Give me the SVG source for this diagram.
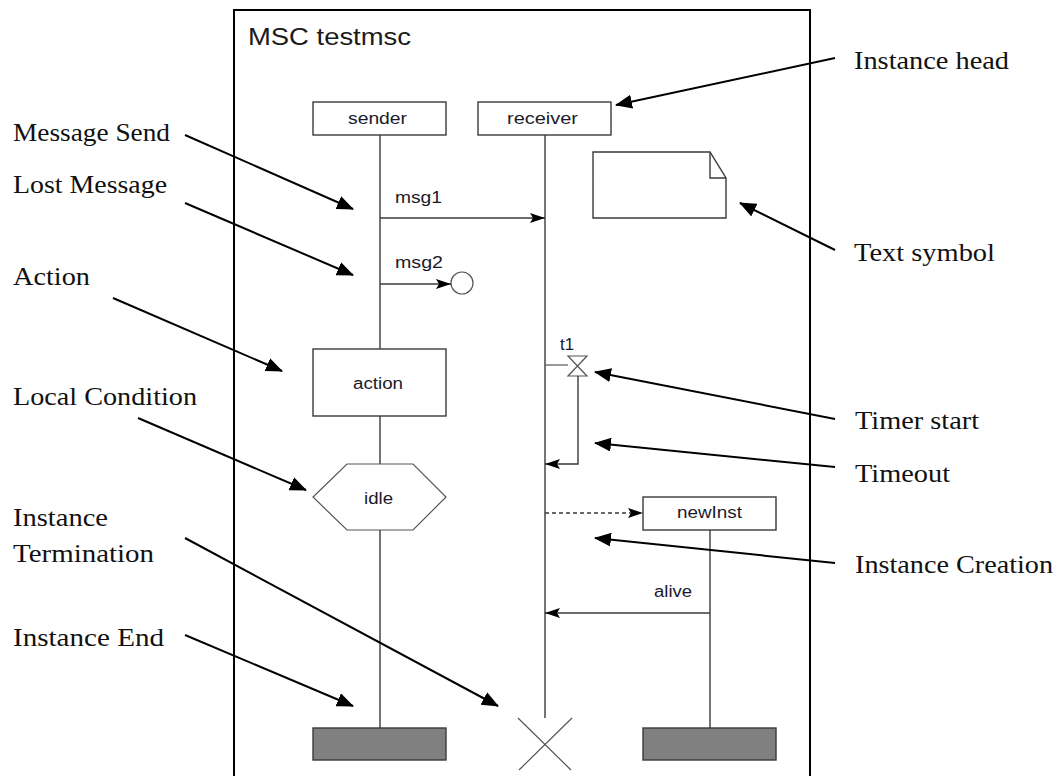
<svg xmlns="http://www.w3.org/2000/svg" width="1059" height="776" viewBox="0 0 1059 776">
<defs>
<marker id="ann" markerUnits="userSpaceOnUse" markerWidth="17" markerHeight="14" viewBox="0 0 17 14" refX="16" refY="7" orient="auto">
<path d="M0,0 L17,7 L0,14 Z" fill="#000"/>
</marker>
<marker id="msg" markerUnits="userSpaceOnUse" markerWidth="15" markerHeight="10" viewBox="0 0 15 10" refX="15" refY="5" orient="auto">
<path d="M0,0 L15,5 L0,10 L3,5 Z" fill="#000"/>
</marker>
<style>
.frame{fill:#fff;stroke:#000;stroke-width:2}
.box{fill:#fff;stroke:#3a3a3a;stroke-width:1.4}
.endbox{fill:#808080;stroke:#3a3a3a;stroke-width:1.4}
.life{stroke:#3a3a3a;stroke-width:1.4;fill:none}
.thin{stroke:#555;stroke-width:1.2;fill:none}
.m{stroke:#3a3a3a;stroke-width:1.4;fill:none;marker-end:url(#msg)}
.ann{stroke:#000;stroke-width:2;fill:none;marker-end:url(#ann)}
.t{font-family:"Liberation Sans",Arial,sans-serif;font-size:16px;fill:#1a1a2a}
.lbl{font-family:"Liberation Serif","Times New Roman",serif;font-size:25px;fill:#111}
</style>
</defs>
<rect x="0" y="0" width="1059" height="776" fill="#fff"/>
<g id="frame">
<path class="frame" d="M234,790 V10 H810 V790"/>
<text x="248" y="45" style="font-family:'Liberation Sans',Arial,sans-serif;font-size:24px;fill:#1a1a1a" textLength="163" lengthAdjust="spacingAndGlyphs">MSC testmsc</text>
</g>
<g id="sender">
<rect class="box" x="313" y="102" width="133" height="33"/>
<text class="t" x="348" y="124" textLength="59" lengthAdjust="spacingAndGlyphs">sender</text>
<path class="life" d="M380,135 V349 M380,416 V464 M380,530 V728"/>
<rect class="endbox" x="313" y="728" width="133" height="32"/>
</g>
<g id="receiver">
<rect class="box" x="478" y="102" width="133" height="33"/>
<text class="t" x="507" y="124" textLength="71" lengthAdjust="spacingAndGlyphs">receiver</text>
<path class="life" d="M545,135 V718"/>
<path class="thin" d="M518,718 L571,770 M572,718 L519,770"/>
</g>
<g id="action">
<rect class="box" x="313" y="349" width="133" height="67"/>
<text class="t" x="353" y="389" textLength="50" lengthAdjust="spacingAndGlyphs">action</text>
</g>
<g id="condition">
<polygon class="thin" points="347,464 413,464 446,497 413,530 347,530 313,497" fill="#fff"/>
<text class="t" x="364" y="504" textLength="29" lengthAdjust="spacingAndGlyphs">idle</text>
</g>
<g id="textsymbol">
<path class="box" d="M593,152 H710 L726,178 V218 H593 Z"/>
<path class="life" d="M710,152 V178 H726"/>
</g>
<g id="timer">
<path class="thin" d="M568,356 H587 L568,376 H587 Z" fill="#fff"/>
<text class="t" x="560" y="350" textLength="14" lengthAdjust="spacingAndGlyphs">t1</text>
</g>
<g id="lostcircle">
<circle class="thin" cx="462" cy="283" r="11" fill="#fff"/>
</g>
<g id="newInst">
<rect class="box" x="643" y="497" width="133" height="33"/>
<text class="t" x="677" y="518" textLength="65" lengthAdjust="spacingAndGlyphs">newInst</text>
<path class="life" d="M710,530 V728"/>
<rect class="endbox" x="643" y="728" width="133" height="32"/>
</g>
<g id="connectors">
<line class="m" x1="380" y1="218" x2="545" y2="218"/>
<text class="t" x="395" y="203" textLength="47" lengthAdjust="spacingAndGlyphs">msg1</text>
<line class="m" x1="380" y1="284" x2="451" y2="284"/>
<text class="t" x="395" y="268" textLength="48" lengthAdjust="spacingAndGlyphs">msg2</text>
<line class="thin" x1="545" y1="365" x2="568" y2="365"/>
<path class="m" d="M578,376 V464 H545"/>
<line class="m" x1="545" y1="513" x2="643" y2="513" stroke-dasharray="4,3"/>
<line class="m" x1="710" y1="613" x2="545" y2="613"/>
<text class="t" x="654" y="597" textLength="38" lengthAdjust="spacingAndGlyphs">alive</text>
</g>
<g id="annotations">
<line class="ann" x1="185" y1="135" x2="353" y2="209"/>
<line class="ann" x1="185" y1="203" x2="353" y2="275"/>
<line class="ann" x1="113" y1="298" x2="282" y2="371"/>
<line class="ann" x1="138" y1="418" x2="306" y2="490"/>
<line class="ann" x1="185" y1="538" x2="498" y2="706"/>
<line class="ann" x1="185" y1="635" x2="353" y2="706"/>
<line class="ann" x1="835" y1="58" x2="616" y2="105"/>
<line class="ann" x1="835" y1="250" x2="740" y2="203"/>
<line class="ann" x1="835" y1="419" x2="595" y2="372"/>
<line class="ann" x1="835" y1="467" x2="595" y2="443"/>
<line class="ann" x1="835" y1="563" x2="595" y2="538"/>
<text class="lbl" x="13" y="141" textLength="157" lengthAdjust="spacingAndGlyphs">Message Send</text>
<text class="lbl" x="13" y="193" textLength="154" lengthAdjust="spacingAndGlyphs">Lost Message</text>
<text class="lbl" x="13" y="285" textLength="77" lengthAdjust="spacingAndGlyphs">Action</text>
<text class="lbl" x="13" y="405" textLength="184" lengthAdjust="spacingAndGlyphs">Local Condition</text>
<text class="lbl" x="13" y="526" textLength="95" lengthAdjust="spacingAndGlyphs">Instance</text>
<text class="lbl" x="13" y="562" textLength="141" lengthAdjust="spacingAndGlyphs">Termination</text>
<text class="lbl" x="13" y="646" textLength="151" lengthAdjust="spacingAndGlyphs">Instance End</text>
<text class="lbl" x="854" y="69" textLength="155" lengthAdjust="spacingAndGlyphs">Instance head</text>
<text class="lbl" x="854" y="261" textLength="141" lengthAdjust="spacingAndGlyphs">Text symbol</text>
<text class="lbl" x="855" y="429" textLength="124" lengthAdjust="spacingAndGlyphs">Timer start</text>
<text class="lbl" x="855" y="482" textLength="95" lengthAdjust="spacingAndGlyphs">Timeout</text>
<text class="lbl" x="855" y="573" textLength="198" lengthAdjust="spacingAndGlyphs">Instance Creation</text>
</g>
</svg>
